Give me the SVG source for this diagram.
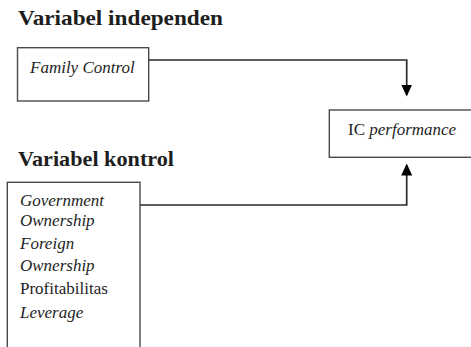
<svg xmlns="http://www.w3.org/2000/svg" width="471" height="347" viewBox="0 0 471 347">
<style>
text{font-family:"Liberation Serif","Times New Roman",serif;fill:#1e1e1e}
.h{font-size:21px;font-weight:bold}
.t{font-size:17px}
.i{font-style:italic}
.box{fill:#fff;stroke:#4a4a4a;stroke-width:1.4}
.con{fill:none;stroke:#2a2a2a;stroke-width:1.7}
</style>
<defs>
<marker id="ah" markerUnits="userSpaceOnUse" markerWidth="12" markerHeight="11" viewBox="0 0 12 11" refX="10.5" refY="5.5" orient="auto">
<path d="M0,0 L12,5.5 L0,11 z" fill="#000"/>
</marker>
</defs>
<rect width="471" height="347" fill="#fff"/>
<text class="h" x="18" y="25" textLength="205" lengthAdjust="spacingAndGlyphs">Variabel independen</text>
<text class="h" x="18" y="166" textLength="156" lengthAdjust="spacingAndGlyphs">Variabel kontrol</text>
<g id="family-control">
<rect class="box" x="17.5" y="47.7" width="131.2" height="53.3"/>
<text class="t i" x="30" y="73">Family Control</text>
</g>
<g id="ic-performance">
<rect class="box" x="329.3" y="110" width="150" height="47.3"/>
<text class="t" x="348" y="135">IC <tspan class="i">performance</tspan></text>
</g>
<g id="variabel-kontrol">
<rect class="box" x="7.3" y="182.3" width="132.7" height="180"/>
<text class="t i" x="20" y="206">Government</text>
<text class="t i" x="20" y="226">Ownership</text>
<text class="t i" x="20" y="249">Foreign</text>
<text class="t i" x="20" y="271">Ownership</text>
<text class="t" x="20" y="293.5">Profitabilitas</text>
<text class="t i" x="20" y="317.5">Leverage</text>
</g>
<g id="connectors">
<path class="con" d="M148.7,60 H406.7 V95" marker-end="url(#ah)"/>
<path class="con" d="M140,205 H406.7 V165" marker-end="url(#ah)"/>
</g>
</svg>
